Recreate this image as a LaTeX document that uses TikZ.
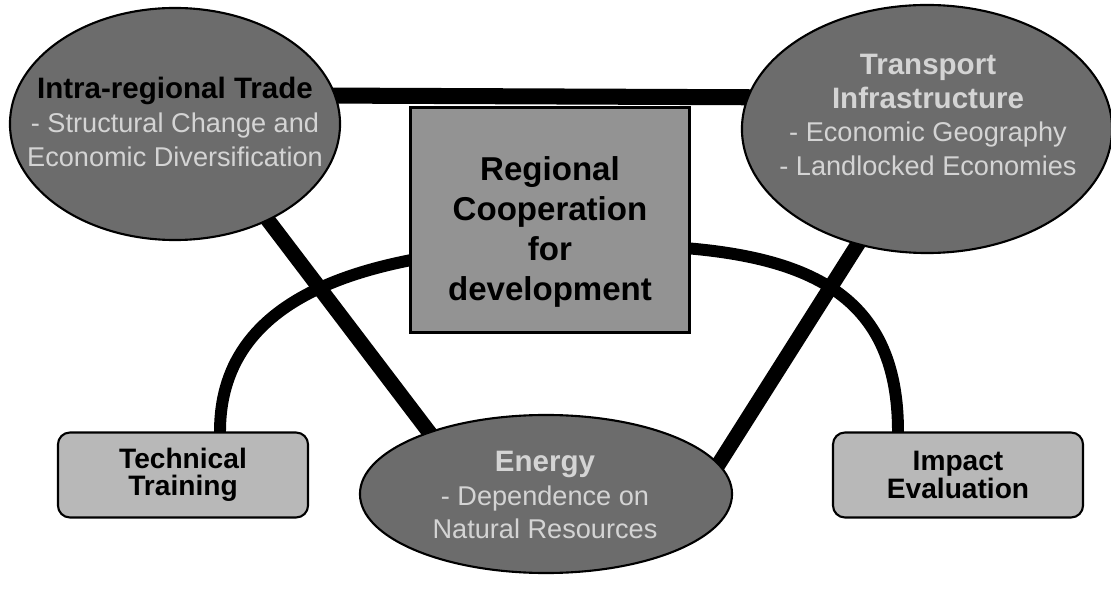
\documentclass[tikz,border=0pt]{standalone}
\usepackage{fontspec}
\setmainfont{Liberation Sans}
\usetikzlibrary{shapes.geometric}
\usetikzlibrary{backgrounds}

\definecolor{ovalfill}{HTML}{6C6C6C}
\definecolor{corefill}{HTML}{939393}
\definecolor{sidefill}{HTML}{B8B8B8}
\definecolor{ovalink}{HTML}{D4D4D4}

\newcommand{\ovalhead}[1]{{\fontsize{21}{24}\selectfont\bfseries #1}}

\begin{document}
\begin{tikzpicture}[x=0.025cm, y=-0.025cm,
  oval/.style={ellipse, draw=black, line width=1.5pt, fill=ovalfill, inner sep=0pt},
  ovallabel/.style={align=center, text=ovalink, inner sep=0pt, font=\fontsize{19.3}{24}\selectfont},
  corebox/.style={rectangle, draw=black, line width=1.5pt, fill=corefill, minimum width=6.975cm, minimum height=5.625cm},
  corelabel/.style={align=center, inner sep=0pt, font=\fontsize{23.5}{28.5}\selectfont\bfseries},
  sidebox/.style={rectangle, rounded corners=0.3cm, draw=black, line width=1.5pt, fill=sidefill, align=center, minimum width=6.25cm, minimum height=2.125cm, font=\fontsize{20}{19.5}\selectfont\bfseries},
  link/.style={draw=black, line width=10.7pt},
  bar/.style={draw=black, line width=11.4pt},
  ring/.style={draw=black, line width=8.5pt}
]
\useasboundingbox (0,0) rectangle (1111,589);

% shapes
\node[oval, minimum width=8.25cm, minimum height=5.8cm] (trade) at (175,124) {};
\node[oval, minimum width=9.25cm, minimum height=6.2cm] (transport) at (927,129) {};
\node[oval, minimum width=9.3cm, minimum height=3.95cm] (energy) at (546,494) {};
\node[corebox] (coop) at (550,220) {};
\node[sidebox] (train) at (183,475) {Technical\\Training};
\node[sidebox] (eval) at (958,475) {Impact\\Evaluation};

% texts
\node[ovallabel] (tradetxt) at (175,122) {\textcolor{black}{\ovalhead{Intra-regional Trade}}\\- Structural Change and\\Economic Diversification};
\node[ovallabel] (transporttxt) at (928,115) {\ovalhead{Transport}\\\ovalhead{Infrastructure}\\- Economic Geography\\- Landlocked Economies};
\node[ovallabel] (energytxt) at (545,495) {\ovalhead{Energy}\\- Dependence on\\Natural Resources};
\node[corelabel] (cooptxt) at (550,232) {Regional\\Cooperation\\for\\development};

\coordinate (arcl) at ([xshift=0.925cm]train.north);
\coordinate (arcr) at ([xshift=-1.5cm]eval.north);

\begin{scope}[on background layer]
\fill[white] (0,0) rectangle (1111,589);
\draw[ring] ([yshift=-0.1cm]arcl) -- (arcl) .. controls +(0,-143) and (380,245) .. (600,245)
  .. controls (790,245) and (898,280) .. (arcr) -- ([yshift=-0.1cm]arcr);
\draw[bar, shorten <=-10pt, shorten >=-10pt] (trade.10) -- (transport.170);
\draw[link, shorten <=-10pt, shorten >=-10pt] (trade.-46) -- (energy.152);
\draw[link, shorten <=-10pt, shorten >=-10pt] (transport.239) -- (energy.10);
\end{scope}

\end{tikzpicture}
\end{document}
